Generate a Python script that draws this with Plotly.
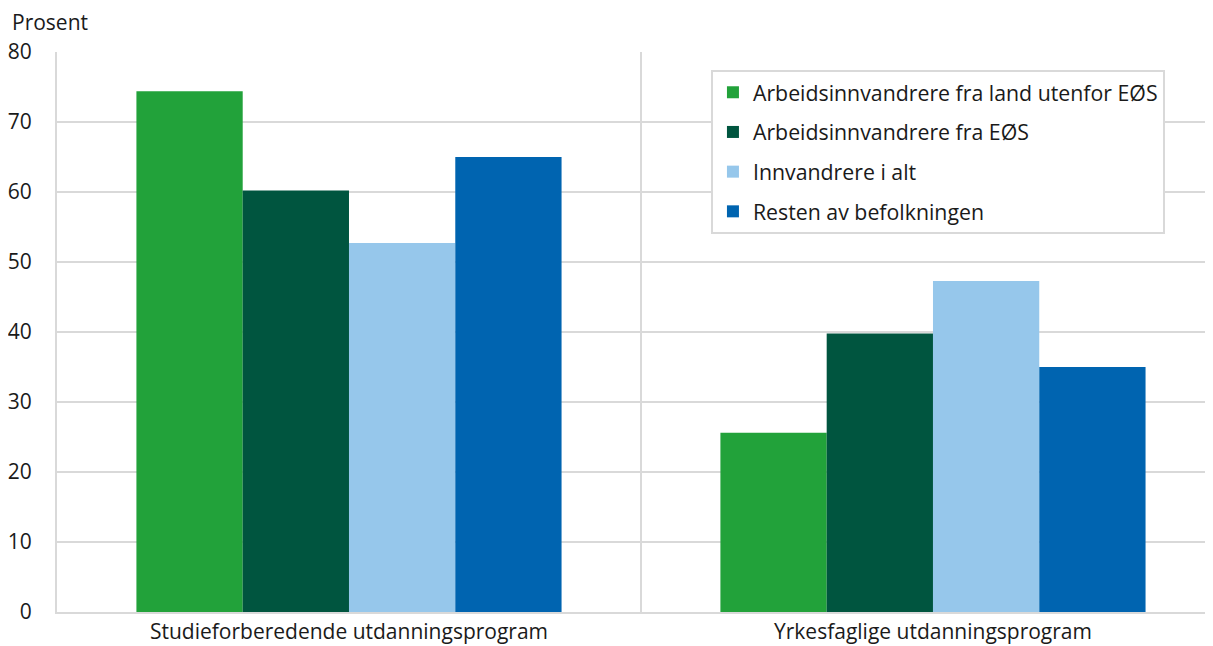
import plotly.graph_objects as go

categories = ["Studieforberedende utdanningsprogram", "Yrkesfaglige utdanningsprogram"]
series_names = [
    "Arbeidsinnvandrere fra land utenfor EØS",
    "Arbeidsinnvandrere fra EØS",
    "Innvandrere i alt",
    "Resten av befolkningen",
]
utenfor_eos = [74.4, 25.6]
fra_eos = [60.2, 39.8]
innvandrere_i_alt = [52.7, 47.3]
resten = [65.0, 35.0]
y_ticks = [0, 10, 20, 30, 40, 50, 60, 70, 80]

colors = ["#22a23a", "#00553f", "#96c7eb", "#0064b0"]
values = [utenfor_eos, fra_eos, innvandrere_i_alt, resten]

fig = go.Figure()
for i, (name, vals, col) in enumerate(zip(series_names, values, colors)):
    fig.add_trace(go.Bar(x=categories, y=vals, name=name, marker_color=col,
                         marker_line_width=0, legendgroup=f"g{i}"))

fig.add_shape(type="line", xref="x", yref="paper", x0=0.5, x1=0.5, y0=0, y1=1,
              line=dict(color="#d9d9d9", width=2), layer="below")

fig.add_annotation(text="Prosent", xref="paper", yref="paper", x=-0.0405, y=1.0,
                   xanchor="left", yanchor="bottom", yshift=14, showarrow=False,
                   font=dict(size=21, color="#1a1a1a"))

fig.update_layout(
    width=1205, height=638,
    margin=dict(l=49, r=0, t=44, b=34),
    plot_bgcolor="white", paper_bgcolor="white",
    font=dict(family="Open Sans", size=21, color="#1a1a1a"),
    barmode="group", bargap=0.272, bargroupgap=0,
    legend=dict(x=0.5657, y=0.968, xanchor="left", yanchor="top",
                bordercolor="#d9d9d9", borderwidth=2, bgcolor="white",
                traceorder="grouped", tracegroupgap=9,
                font=dict(size=21.3)),
    xaxis=dict(range=[-0.5, 1.4795], showline=True, linecolor="#d9d9d9", linewidth=2,
               showgrid=False, ticks="", fixedrange=True),
    yaxis=dict(range=[0, 80], tickvals=y_ticks, showline=True, linecolor="#d9d9d9",
               linewidth=2, gridcolor="#d9d9d9", gridwidth=2, zeroline=False,
               ticks="", ticklabelstandoff=19),
)

fig.write_html("out.html")
